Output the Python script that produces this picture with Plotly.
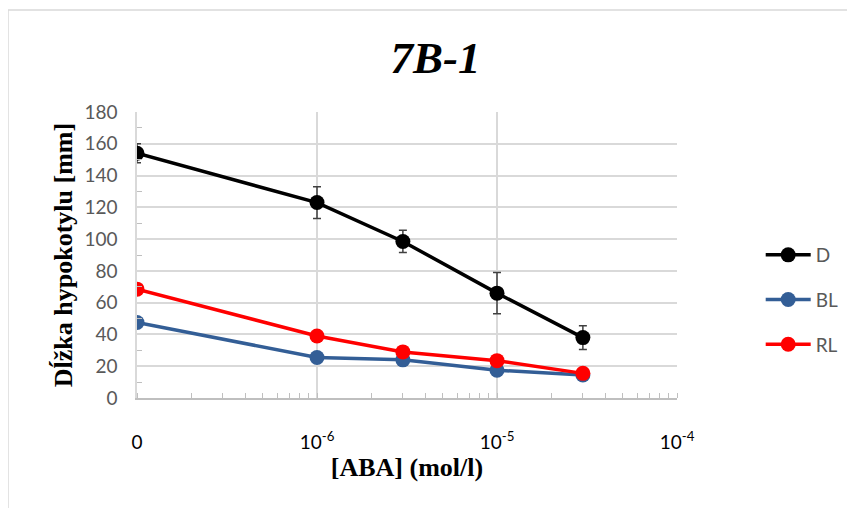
import plotly.graph_objects as go

# Data
x_labels = ["0", "10<sup>-6</sup>", "10<sup>-5</sup>", "10<sup>-4</sup>"]
x_tickvals = [1e-7, 1e-6, 1e-5, 1e-4]
conc = [1e-7, 1e-6, 3e-6, 1e-5, 3e-5]  # "0" plotted at 1e-7 on log axis

d_vals = [154, 123, 98.5, 66, 38]
d_err = [6, 10, 7, 13, 7.5]
bl_vals = [47.5, 25.5, 24, 17.5, 14.5]
rl_vals = [68.5, 39, 29, 23.5, 15.5]

serif = "Liberation Serif, Times New Roman, serif"
sans = "Lato, Calibri, sans-serif"

fig = go.Figure()
fig.add_trace(go.Scatter(
    x=conc, y=d_vals, name="D", mode="lines+markers", legendgroup="D",
    line=dict(color="#000000", width=3.5), marker=dict(size=15, color="#000000"),
    error_y=dict(type="data", array=d_err, color="#404040", thickness=1.5, width=4),
))
fig.add_trace(go.Scatter(
    x=conc, y=bl_vals, name="BL", mode="lines+markers", legendgroup="BL",
    line=dict(color="#335E96", width=3.5), marker=dict(size=15, color="#335E96"),
))
fig.add_trace(go.Scatter(
    x=conc, y=rl_vals, name="RL", mode="lines+markers", legendgroup="RL",
    line=dict(color="#FF0000", width=3.5), marker=dict(size=15, color="#FF0000"),
))

fig.update_layout(
    width=855, height=508, autosize=False,
    margin=dict(l=129, r=186, t=104, b=118),
    paper_bgcolor="white", plot_bgcolor="white",
    title=dict(text="<b><i>7B-1</i></b>", x=0.5, xanchor="center", xref="container",
               y=0.9035, yanchor="middle", yref="container",
               font=dict(family=serif, size=45, color="#000000")),
    showlegend=True,
    legend=dict(x=1.155, xanchor="left", y=0.3427, yanchor="middle",
                font=dict(family=sans, size=19, color="#595959"),
                itemwidth=45,
                tracegroupgap=17, bgcolor="rgba(0,0,0,0)"),
    shapes=[
        dict(type="line", xref="paper", yref="paper", x0=-0.2389, x1=1.5, y0=1.3566, y1=1.3566,
             line=dict(color="#D9D9D9", width=1.5)),
        dict(type="line", xref="paper", yref="paper", x0=-0.2389, x1=-0.2389, y0=1.3566, y1=-0.5,
             line=dict(color="#D9D9D9", width=1.5)),
    ],
)

fig.update_xaxes(
    type="log", range=[-7, -4],
    tickmode="array", tickvals=x_tickvals, ticktext=x_labels,
    ticks="", ticklabelstandoff=26,
    tickfont=dict(family=sans, size=19, color="#000000"),
    showgrid=True, gridcolor="#D9D9D9", gridwidth=1.5,
    showline=True, linecolor="#BFBFBF", linewidth=1.5,
    zeroline=False,
    minor=dict(dtick="D1", ticks="inside", ticklen=5, tickcolor="#BFBFBF", tickwidth=1, showgrid=False),
    title=dict(text="<b>[ABA] (mol/l)</b>", font=dict(family=serif, size=26, color="#000000"), standoff=0),
)
fig.update_yaxes(
    range=[0, 180], tickmode="linear", dtick=20,
    ticks="", ticklabelstandoff=14,
    tickfont=dict(family=sans, size=19, color="#595959"),
    showgrid=True, gridcolor="#D9D9D9", gridwidth=1.5,
    showline=True, linecolor="#D9D9D9", linewidth=1.5,
    zeroline=False,
    minor=dict(dtick=10, ticks="inside", ticklen=5, tickcolor="#BFBFBF", tickwidth=1, showgrid=False),
    title=dict(text="<b>Dĺžka hypokotylu [mm]</b>", font=dict(family=serif, size=26, color="#000000"), standoff=4),
)

fig.write_html("out.html")
